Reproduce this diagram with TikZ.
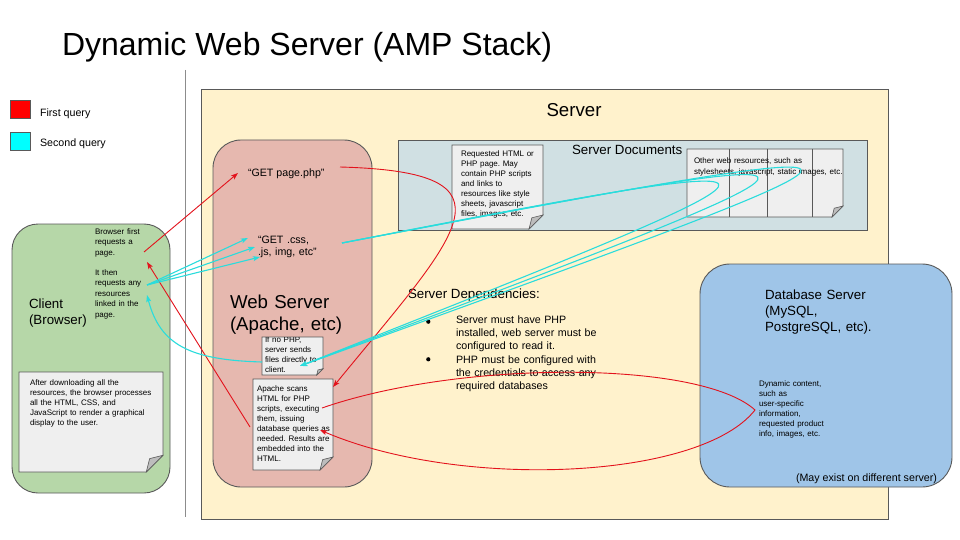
\documentclass[tikz,border=0pt]{standalone}
\usepackage{fontspec}
\setmainfont{Liberation Sans}
\usetikzlibrary{arrows.meta,calc}
\frenchspacing
\definecolor{srvfill}{HTML}{FFF2CC}
\definecolor{websfill}{HTML}{E6B8AF}
\definecolor{clifill}{HTML}{B6D7A8}
\definecolor{dbfill}{HTML}{9FC5E8}
\definecolor{docfill}{HTML}{D0E0E3}
\definecolor{notefill}{HTML}{EFEFEF}
\definecolor{foldfill}{HTML}{BDBDBD}
\definecolor{bordc}{HTML}{595959}
\definecolor{redq}{HTML}{E3121C}
\definecolor{cyanq}{HTML}{2ADCDC}
\definecolor{legred}{HTML}{FF0000}
\definecolor{legcyan}{HTML}{00FFFF}
\definecolor{divc}{HTML}{8C8C8C}
\newcommand\fsz[2]{\fontsize{#1}{#2}\selectfont}
\newcommand\foldnote[6]{%
  \node[inner sep=0pt, outer sep=0pt, minimum width={#4pt-#2pt}, minimum height={#5pt-#3pt}, anchor=north west] (#1) at (#2,#3) {};
  \filldraw[notestyle] (#1.north west) -- (#1.north east) -- ($(#1.south east)+(0,-#6)$) -- ($(#1.south east)+(-#6,0)$) -- (#1.south west) -- cycle;
  \filldraw[foldstyle] ($(#1.south east)+(-#6,0)$) -- ($(#1.south east)+(-0.8*#6,-0.8*#6)$) -- ($(#1.south east)+(0,-#6)$) -- cycle;
}
\begin{document}
\begin{tikzpicture}[x=1pt,y=-1pt,
  box/.style={draw=bordc, line width=0.9pt, inner sep=0pt, outer sep=0pt, anchor=north west},
  notestyle/.style={draw=bordc, fill=notefill, line width=0.8pt, line join=miter},
  foldstyle/.style={draw=bordc, fill=foldfill, line width=0.6pt},
  tx/.style={inner sep=0pt, outer sep=0pt, anchor=base west, align=left, text width=250pt},
  txs/.style={inner sep=0pt, outer sep=0pt, anchor=base west},
  legbox/.style={draw=bordc, line width=0.6pt, minimum width=20pt, minimum height=18pt, inner sep=0pt, anchor=north west},
  divline/.style={draw=divc, line width=0.9pt},
  redarr/.style={draw=redq, line width=0.9pt, -{Stealth[length=7pt,width=5pt,inset=1.5pt]}},
  cyanarr/.style={draw=cyanq, line width=1.1pt, -{Stealth[length=7pt,width=5pt,inset=1.5pt]}},
  dot/.style={fill=black}
]
\useasboundingbox (0,0) rectangle (960,540);
\fill[white] (0,0) rectangle (960,540);

% title
\node[txs, font=\fsz{32}{38}] (title) at (62,56) {Dynamic Web Server (AMP Stack)};

% legend
\node[legbox, fill=legred] (legred) at (10,100) {};
\node[txs, font=\fsz{10.67}{12}] (legredt) at (40,117) {First query};
\node[legbox, fill=legcyan] (legcyan) at (10,132) {};
\node[txs, font=\fsz{10.67}{12}] (legcyant) at (40,147) {Second query};

% divider
\coordinate (divtop) at (185,70);
\coordinate (divbot) at (185,517);
\draw[divline] (divtop) -- (divbot);

% main boxes
\node[box, fill=srvfill, minimum width=687pt, minimum height=430pt] (server) at (201,89) {};
\node[font=\fsz{18.67}{21}, anchor=base, inner sep=0pt] (serverlbl) at (574,117) {Server};
\node[box, fill=websfill, rounded corners=28pt, minimum width=159pt, minimum height=347pt] (websrv) at (213,140) {};
\node[box, fill=docfill, minimum width=469pt, minimum height=90pt] (docs) at (398,140) {};
\node[box, fill=clifill, rounded corners=26pt, minimum width=158pt, minimum height=269pt] (client) at (12,224) {};
\node[box, fill=dbfill, rounded corners=30pt, minimum width=252pt, minimum height=223pt] (db) at (700,264) {};

% notes
\foldnote{reqnote}{452}{145}{543}{229}{14}
\foldnote{othnote}{687}{149}{843}{217}{11}
\draw[bordc, line width=0.8pt] (729,149) -- (729,217) (767,149) -- (767,217) (812,149) -- (812,217);
\foldnote{nophp}{262}{337}{323}{375}{6.3}
\foldnote{apnote}{253}{379}{333}{470}{13}
\foldnote{clinote}{19}{372}{163}{472}{16.7}

% texts
\node[txs, font=\fsz{10.67}{12.5}] (getphp) at (248,176) {“GET page.php”};
\node[tx, font=\fsz{10.67}{12.5}] (getcss) at (258,243) {“GET .css,\\.js, img, etc”};
\node[tx, font=\fsz{18.67}{22}] (weblbl) at (230,308) {Web Server\\(Apache, etc)};
\node[tx, font=\fsz{13.33}{16}] (clilbl) at (29,308) {Client\\(Browser)};
\node[tx, font=\fsz{8}{10.7}] (clitxt1) at (95,234) {Browser first\\requests a\\page.};
\node[tx, font=\fsz{8}{10.5}] (clitxt2) at (95,275) {It then\\requests any\\resources\\linked in the\\page.};
\node[tx, font=\fsz{8}{10}] (clinotetxt) at (30,385) {After downloading all the\\resources, the browser processes\\all the HTML, CSS, and\\JavaScript to render a graphical\\display to the user.};
\node[tx, font=\fsz{8}{10}] (aptxt) at (257,391) {Apache scans\\HTML for PHP\\scripts, executing\\them, issuing\\database queries as\\needed. Results are\\embedded into the\\HTML.};
\begin{scope}
\clip (262,337.4) rectangle (330,380);
\node[tx, font=\fsz{8}{10.2}] (nophptxt) at (265,342) {If no PHP,\\server sends\\files directly to\\client.};
\end{scope}
\node[tx, font=\fsz{8}{9.9}] (reqtxt) at (461,157) {Requested HTML or\\PHP page. May\\contain PHP scripts\\and links to\\resources like style\\sheets, javascript\\files, images, etc.};
\node[txs, font=\fsz{13.33}{16}] (docslbl) at (572,155) {Server Documents};
\node[tx, font=\fsz{8}{10.7}] (othtxt) at (694,163.5) {Other web resources, such as\\stylesheets, javascript, static images, etc.};
\node[txs, font=\fsz{13.33}{16}] (depslbl) at (408,298) {Server Dependencies:};
\fill[dot] (428.3,321.7) circle (2.1);
\fill[dot] (428.3,359.3) circle (2.1);
\node[tx, font=\fsz{10.67}{13.2}] (dep1) at (456,323.5) {Server must have PHP\\installed, web server must be\\configured to read it.};
\node[tx, font=\fsz{10.67}{13.2}] (dep2) at (456,363) {PHP must be configured with\\the credentials to access any\\required databases};
\node[tx, font=\fsz{13.33}{16}] (dblbl) at (765,299.5) {Database Server\\(MySQL,\\PostgreSQL, etc).};
\node[tx, font=\fsz{8}{10}] (dbtxt) at (759,386) {Dynamic content,\\such as\\user-specific\\information,\\requested product\\info, images, etc.};
\node[txs, font=\fsz{10.67}{12}] (dbnote) at (796,481) {(May exist on different server)};

% connector end points
\coordinate (r1s) at (144,252);
\coordinate (r1e) at (238,173);
\coordinate (r2s) at (340,167);
\coordinate (r2e) at (333,387);
\coordinate (r3s) at (322,408);
\coordinate (r3m) at (755,410);
\coordinate (r3e) at (320,430);
\coordinate (r4s) at (250,427);
\coordinate (r4e) at (147,262);
\coordinate (c1s) at (147,285);
\coordinate (c1a) at (248,238);
\coordinate (c1b) at (255,247);
\coordinate (c1c) at (260,257);
\coordinate (c2s) at (342,243);
\coordinate (c2e) at (300,366);
\coordinate (c3s) at (262,362);
\coordinate (c3e) at (147,295);

% first query (red)
\draw[redarr] (r1s) -- (r1e);
\draw[redarr] (r2s) .. controls (525,172) and (460,232) .. (r2e);
\draw[redarr] (r3s) .. controls (460,360) and (700,360) .. (r3m) .. controls (700,480) and (460,490) .. (r3e);
\draw[redarr] (r4s) -- (r4e);

% second query (cyan)
\draw[cyanarr] (c1s) -- (c1a);
\draw[cyanarr] (c1s) -- (c1b);
\draw[cyanarr] (c1s) -- (c1c);
\draw[cyanarr] (c2s) .. controls (870,140) and (830,156) .. (c2e);
\draw[cyanarr] (c2s) .. controls (920,132) and (885,145) .. (c2e);
\draw[cyanarr] (c2s) .. controls (980,122) and (940,134) .. (c2e);
\draw[cyanarr] (c3s) .. controls (190,360) and (160,345) .. (c3e);
\end{tikzpicture}
\end{document}
